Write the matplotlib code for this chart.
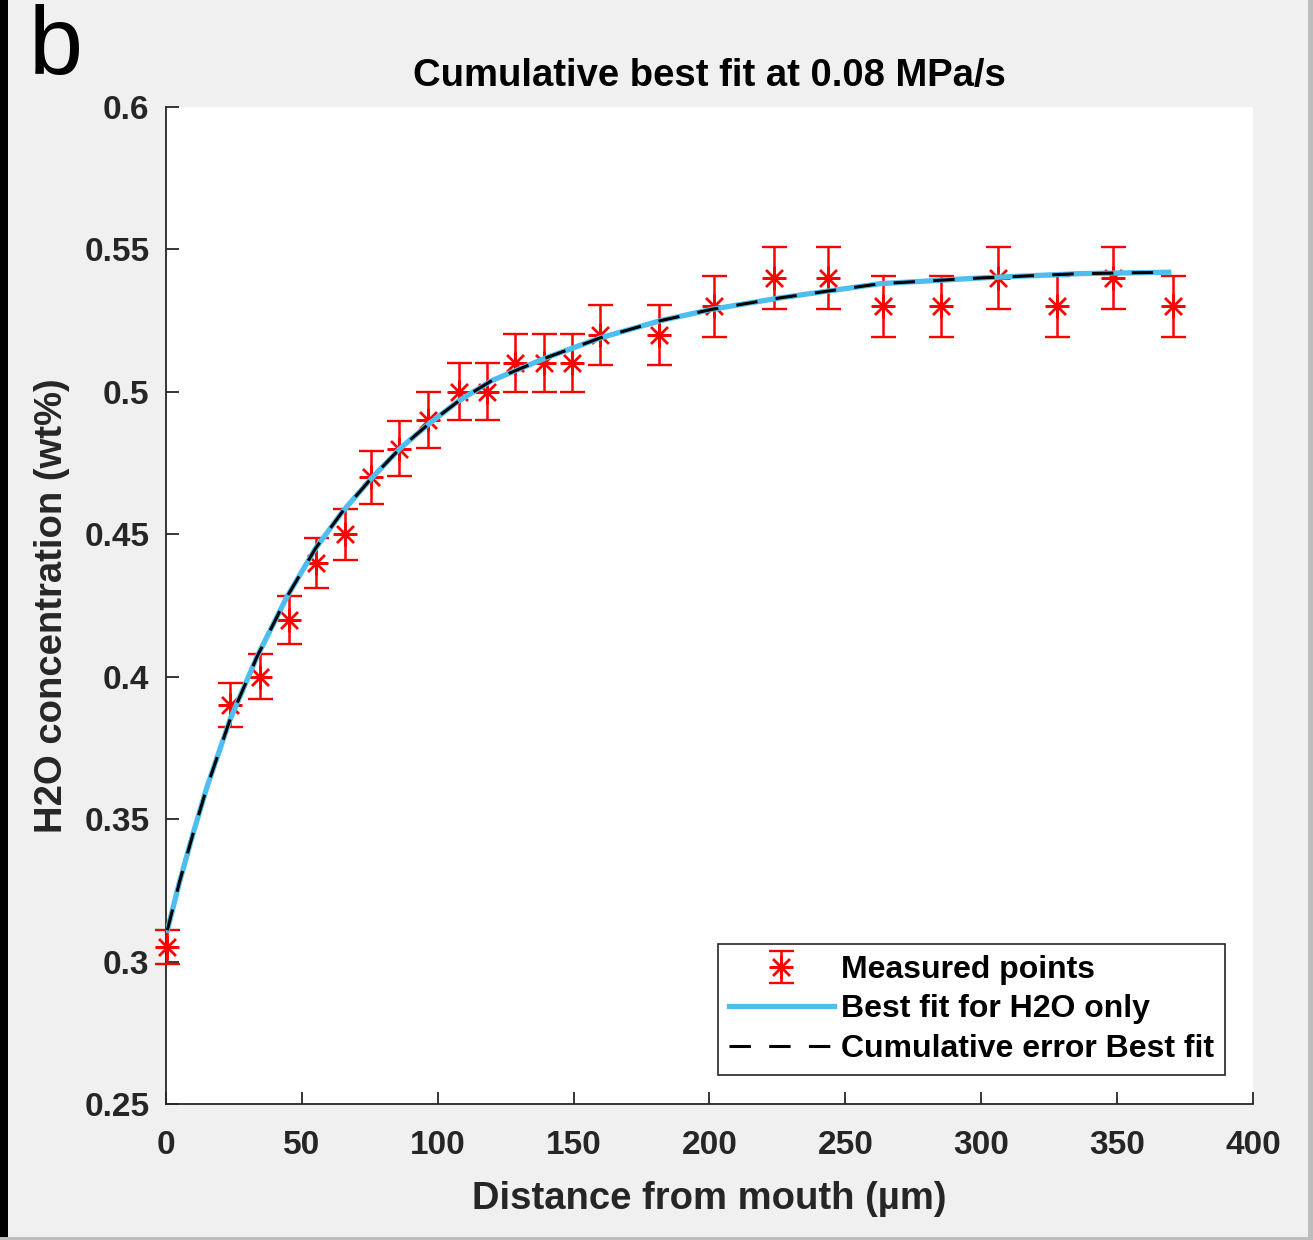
import matplotlib
matplotlib.use('Agg')
import matplotlib.pyplot as plt
from matplotlib.patches import Rectangle
from matplotlib.ticker import FormatStrFormatter

plt.rcParams['font.family'] = ['Liberation Sans', 'DejaVu Sans']
plt.rcParams['font.weight'] = 'bold'
plt.rcParams['axes.labelweight'] = 'bold'
plt.rcParams['axes.titleweight'] = 'bold'

# Pontos medidos (distância em µm, concentração em wt%) e barras de erro
distancia = [0.4, 23.6, 34.6, 45.3, 55.2, 65.8, 75.4, 85.7, 96.4, 107.8, 118.1, 128.4,
             139.1, 149.4, 159.7, 181.4, 201.7, 223.7, 243.6, 263.8, 285.2, 306.2,
             327.9, 348.5, 370.6]
concentracao = [0.305, 0.39, 0.40, 0.42, 0.44, 0.45, 0.47, 0.48, 0.49, 0.50, 0.50, 0.51,
                0.51, 0.51, 0.52, 0.52, 0.53, 0.54, 0.54, 0.53, 0.53, 0.54, 0.53, 0.54, 0.53]
erro = [0.006, 0.0078, 0.008, 0.0084, 0.0088, 0.009, 0.0094, 0.0096, 0.0098, 0.01, 0.01,
        0.0102, 0.0102, 0.0102, 0.0104, 0.0104, 0.0106, 0.0108, 0.0108, 0.0106, 0.0106,
        0.0108, 0.0106, 0.0108, 0.0106]

# Curva de melhor ajuste
x_ajuste = [0.5, 5, 10, 15, 23.6, 33.5, 44.5, 55, 65, 75, 86, 97, 108, 120, 140, 160,
            182, 201, 226, 263, 300, 336, 369]
y_ajuste = [0.311, 0.328, 0.345, 0.361, 0.385, 0.407, 0.428, 0.445, 0.458, 0.469, 0.480,
            0.489, 0.497, 0.504, 0.512, 0.519, 0.525, 0.529, 0.533, 0.538, 0.540, 0.5415,
            0.542]

CINZA_FUNDO = '#f0f0f0'
CINZA_EIXO = '#262626'

fig = plt.figure(figsize=(13.13, 12.4), dpi=100, facecolor=CINZA_FUNDO)
ax = fig.add_axes([0.1264, 0.1097, 0.8279, 0.804])

h_medidos = ax.errorbar(distancia, concentracao, yerr=erro, linestyle='none',
                        marker=(8, 2, 0), markersize=17, markeredgewidth=1.7,
                        color='red', ecolor='red', elinewidth=1.8, capsize=9,
                        capthick=1.8, zorder=3)
for artista in h_medidos.lines[0:1] + tuple(h_medidos.lines[1]) + tuple(h_medidos.lines[2]):
    artista.set_clip_on(False)

h_azul, = ax.plot(x_ajuste, y_ajuste, color='#4dbeee', linewidth=3.8, zorder=5)
h_preto, = ax.plot(x_ajuste, y_ajuste, color='black', linewidth=2.2, dashes=(7, 6), zorder=6)

ax.set_xlim(0, 400)
ax.set_ylim(0.25, 0.6)
ax.set_xticks(range(0, 401, 50))
ax.set_yticks([0.25, 0.3, 0.35, 0.4, 0.45, 0.5, 0.55, 0.6])
ax.yaxis.set_major_formatter(FormatStrFormatter('%g'))

for lado in ['top', 'right']:
    ax.spines[lado].set_visible(False)
for lado in ['left', 'bottom']:
    ax.spines[lado].set_color(CINZA_EIXO)
    ax.spines[lado].set_linewidth(1.3)
ax.tick_params(direction='in', length=9, width=1.3, colors=CINZA_EIXO, labelsize=24)
ax.tick_params(axis='x', pad=19)
ax.tick_params(axis='y', pad=12)

ax.set_xlabel('Distance from mouth (µm)', fontsize=27.5, color=CINZA_EIXO, labelpad=14)
ax.set_ylabel('H2O concentration (wt%)', fontsize=27.5, color=CINZA_EIXO, labelpad=10)
ax.set_title('Cumulative best fit at 0.08 MPa/s', fontsize=27.5, color='black', pad=15)

leg = ax.legend([h_medidos, h_azul, h_preto],
                ['Measured points', 'Best fit for H2O only', 'Cumulative error Best fit'],
                loc='lower right', bbox_to_anchor=(0.974, 0.029), fontsize=23,
                handlelength=3.3, handletextpad=0.2, labelspacing=0.3,
                borderpad=0.35, borderaxespad=0, fancybox=False, framealpha=1,
                edgecolor=CINZA_EIXO)
leg.get_frame().set_linewidth(1.2)

fig.text(0.022, 0.997, 'b', fontsize=70, fontweight='normal', va='top', ha='left')

# bordas da figura
fig.add_artist(Rectangle((0, 0), 8 / 1313, 1, transform=fig.transFigure,
                         facecolor='black', edgecolor='none'))
fig.add_artist(Rectangle((1308 / 1313, 0), 5 / 1313, 1, transform=fig.transFigure,
                         facecolor='#bdbdbd', edgecolor='none'))
fig.add_artist(Rectangle((0, 0), 1, 3 / 1240, transform=fig.transFigure,
                         facecolor='#bdbdbd', edgecolor='none'))

fig.savefig('out.png', dpi=100, facecolor=fig.get_facecolor())
